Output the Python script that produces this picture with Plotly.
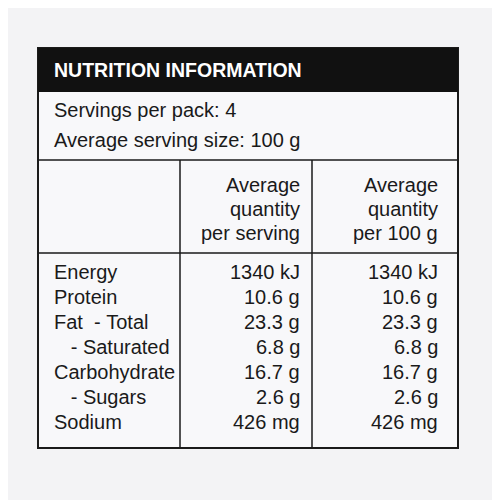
import plotly.graph_objects as go

title = "NUTRITION INFORMATION"
servings = ["Servings per pack: 4", "Average serving size: 100 g"]
col_heads = [["Average", "quantity", "per serving"], ["Average", "quantity", "per 100 g"]]
nutrients = ["Energy", "Protein", "Fat  - Total", "   - Saturated", "Carbohydrate", "   - Sugars", "Sodium"]
per_serving = ["1340 kJ", "10.6 g", "23.3 g", "6.8 g", "16.7 g", "2.6 g", "426 mg"]
per_100g = ["1340 kJ", "10.6 g", "23.3 g", "6.8 g", "16.7 g", "2.6 g", "426 mg"]

row_y = [272, 297, 322, 347, 372, 397, 422]
head_y = [185, 209, 233]
FONT = "Liberation Sans, Arial, sans-serif"
ink = "#1a1a1a"
FS = 20

fig = go.Figure()
# invisible trace so the axes exist
fig.add_trace(go.Scatter(x=[0, 500], y=[0, 500], mode="markers", marker_opacity=0, hoverinfo="skip"))

line = dict(color=ink, width=1.5)
shapes = [
    dict(type="rect", x0=38, x1=458, y0=48, y1=448, line=dict(color=ink, width=2), fillcolor="#f8f8fa", layer="below"),
    dict(type="rect", x0=38, x1=458, y0=48, y1=92, line=dict(width=0), fillcolor="#111111"),
    dict(type="line", x0=38, x1=458, y0=160, y1=160, line=line),
    dict(type="line", x0=38, x1=458, y0=253, y1=253, line=line),
    dict(type="line", x0=180, x1=180, y0=160, y1=448, line=line),
    dict(type="line", x0=312, x1=312, y0=160, y1=448, line=line),
]

ann = [dict(x=52, y=70, text="<b>" + title + "</b>", xanchor="left", yanchor="middle",
            font=dict(size=19.5, color="white", family=FONT), showarrow=False)]
for i, s in enumerate(servings):
    ann.append(dict(x=52, y=110 + 30 * i, text=s, xanchor="left", yanchor="middle",
                    font=dict(size=FS, color=ink, family=FONT), showarrow=False))
for xr, heads in zip([302, 440], col_heads):
    for y, h in zip(head_y, heads):
        ann.append(dict(x=xr, y=y, text=h, xanchor="right", yanchor="middle",
                        font=dict(size=FS, color=ink, family=FONT), showarrow=False))
for y, n, a, b in zip(row_y, nutrients, per_serving, per_100g):
    ann.append(dict(x=52, y=y, text=n.replace(" ", "&nbsp;"), xanchor="left", yanchor="middle",
                    font=dict(size=FS, color=ink, family=FONT), showarrow=False))
    ann.append(dict(x=302, y=y, text=a, xanchor="right", yanchor="middle",
                    font=dict(size=FS, color=ink, family=FONT), showarrow=False))
    ann.append(dict(x=440, y=y, text=b, xanchor="right", yanchor="middle",
                    font=dict(size=FS, color=ink, family=FONT), showarrow=False))

# page body margin shifts the figure by 8px, so offset the ranges
fig.update_layout(
    width=500, height=500, margin=dict(l=0, r=0, t=0, b=0),
    paper_bgcolor="#f3f3f5", plot_bgcolor="#f3f3f5",
    xaxis=dict(range=[8, 508], visible=False),
    yaxis=dict(range=[508, 8], visible=False),
    shapes=shapes, annotations=ann, showlegend=False,
)
fig.write_html("out.html")
